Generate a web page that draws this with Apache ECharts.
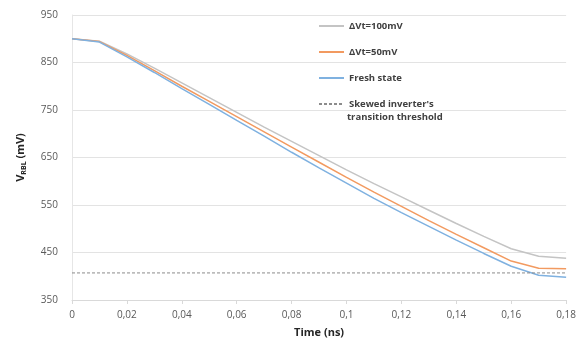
<!DOCTYPE html>
<html>
<head>
<meta charset="utf-8">
<script src="https://cdn.jsdelivr.net/npm/echarts@6/dist/echarts.min.js"></script>
<style>
  html, body { margin: 0; padding: 0; background: #fff; }
  #chart { width: 579px; height: 350px; }
</style>
</head>
<body>
<div id="chart"></div>
<script>
// time axis (ns)
const times = [0, 0.01, 0.02, 0.03, 0.04, 0.05, 0.06, 0.07, 0.08, 0.09, 0.1, 0.11, 0.12, 0.13, 0.14, 0.15, 0.16, 0.17, 0.18];

// V_RBL (mV)
const vt100 = [900, 895, 868, 838, 807, 776, 745, 714, 684, 654, 624, 595, 567, 539, 511, 484, 458, 442, 438];
const vt50 = [900, 894, 865, 833, 800, 768, 736, 704, 672, 640, 608, 577, 547, 517, 488, 460, 432, 417, 416];
const fresh = [900, 893, 862, 829, 795, 762, 728, 695, 661, 628, 596, 564, 534, 505, 476, 448, 421, 402, 398];

// skewed inverter threshold
const thresholdTimes = [0, 0.18];
const thresholdValue = 407;

const legendNames = ['ΔVt=100mV', 'ΔVt=50mV', 'Fresh state', "Skewed inverter's transition threshold"];

const yTicks = { min: 350, max: 950, step: 100 };
const xTicks = { min: 0, max: 0.18, step: 0.02 };

const pairs = (xs, ys) => xs.map((x, i) => [x, ys[i]]);

const chart = echarts.init(document.getElementById('chart'));

const font = 'Open Sans, DejaVu Sans, sans-serif';
const labelFont = { color: '#595959', fontSize: 10, fontFamily: font };
const legendText = { color: '#404040', fontSize: 9.5, fontWeight: 'bold', fontFamily: font };

chart.setOption({
  backgroundColor: '#fff',
  animation: false,
  grid: { left: 72, right: 11, top: 15, bottom: 50 },
  legend: {
    orient: 'vertical',
    left: 318,
    top: 17,
    padding: 0,
    itemWidth: 25,
    itemHeight: 8,
    itemGap: 8,
    itemTextGap: 4,
    itemStyle: { opacity: 0 },
    textStyle: Object.assign({ lineHeight: 18 }, legendText),
    // the last entry wraps; its second line is drawn below as a graphic
    formatter: name => name === legendNames[3] ? "Skewed inverter's" : name,
    data: legendNames
  },
  graphic: [{
    type: 'text',
    left: 347,
    top: 112,
    style: Object.assign({ text: 'transition threshold', fill: legendText.color, font: 'bold 9.5px ' + font })
  }],
  xAxis: {
    type: 'value',
    min: xTicks.min,
    max: xTicks.max,
    interval: xTicks.step,
    name: 'Time (ns)',
    nameLocation: 'middle',
    nameGap: 27,
    nameTextStyle: { color: '#262626', fontSize: 11, fontWeight: 'bold', fontFamily: font },
    axisLine: { lineStyle: { color: '#d9d9d9' } },
    axisTick: { show: true, length: 4, lineStyle: { color: '#d9d9d9' } },
    splitLine: { show: false },
    axisLabel: Object.assign({}, labelFont, {
      margin: 10,
      formatter: v => String(+v.toFixed(2)).replace('.', ',')
    })
  },
  yAxis: {
    type: 'value',
    min: yTicks.min,
    max: yTicks.max,
    interval: yTicks.step,
    name: '{v|V}{sub|RBL}{v| (mV)}',
    nameLocation: 'middle',
    nameGap: 45,
    nameTextStyle: {
      rich: {
        v: { color: '#262626', fontSize: 11, fontWeight: 'bold', fontFamily: font },
        sub: { color: '#262626', fontSize: 7, fontWeight: 'bold', fontFamily: font, padding: [6, 0, 0, 0] }
      }
    },
    axisLine: { show: true, lineStyle: { color: '#e6e6e6' } },
    axisTick: { show: false },
    splitLine: { lineStyle: { color: '#e3e3e3' } },
    axisLabel: Object.assign({}, labelFont, { margin: 14 })
  },
  series: [
    {
      name: legendNames[0],
      type: 'line',
      data: pairs(times, vt100),
      symbol: 'none',
      lineStyle: { color: '#c4c4c4', width: 1.5 },
      itemStyle: { color: '#c4c4c4' }
    },
    {
      name: legendNames[1],
      type: 'line',
      data: pairs(times, vt50),
      symbol: 'none',
      lineStyle: { color: '#f29a60', width: 1.5 },
      itemStyle: { color: '#f29a60' }
    },
    {
      name: legendNames[2],
      type: 'line',
      data: pairs(times, fresh),
      symbol: 'none',
      lineStyle: { color: '#7fb1e0', width: 1.5 },
      itemStyle: { color: '#7fb1e0' }
    },
    {
      name: legendNames[3],
      type: 'line',
      data: pairs(thresholdTimes, thresholdTimes.map(() => thresholdValue)),
      symbol: 'none',
      lineStyle: { color: '#8c8c8c', width: 1, type: [3, 2] },
      itemStyle: { color: '#8c8c8c' }
    }
  ]
});
</script>
</body>
</html>
